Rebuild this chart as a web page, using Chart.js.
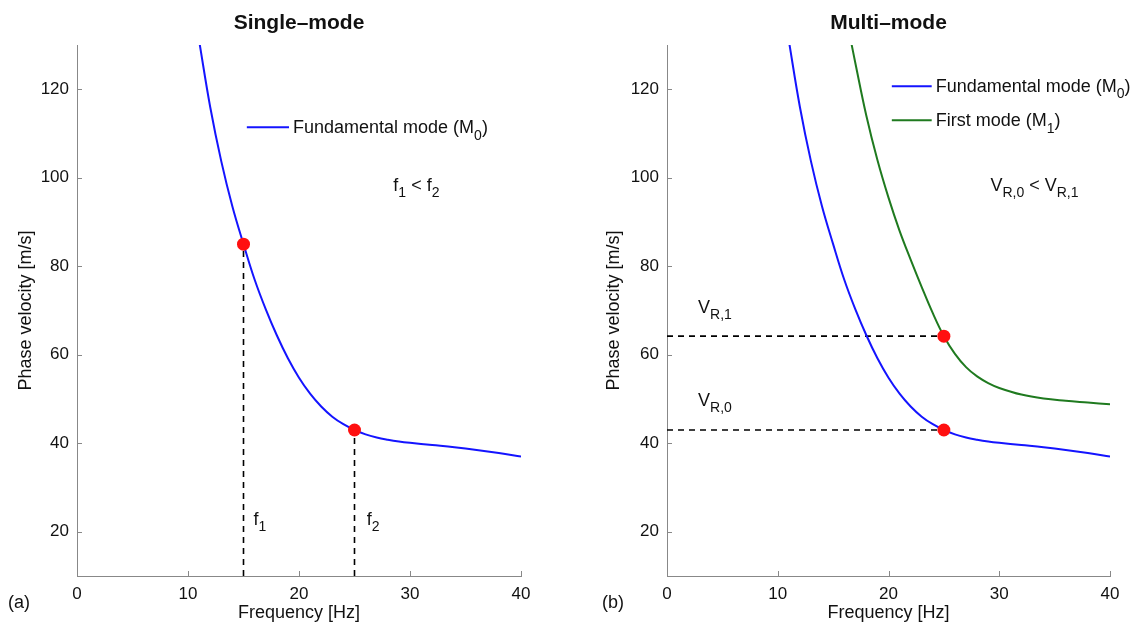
<!DOCTYPE html>
<html>
<head>
<meta charset="utf-8">
<script src="https://cdn.jsdelivr.net/npm/chart.js@4.4.1/dist/chart.umd.min.js"></script>
<style>
  body { margin: 0; background: #fff; }
  canvas { position: absolute; top: 0; }
</style>
</head>
<body>
<canvas id="leftChart" width="571" height="628" style="left:0"></canvas>
<canvas id="rightChart" width="572" height="628" style="left:571px"></canvas>
<script>
// tick labels
const xTicks = [0, 10, 20, 30, 40];
const yTicks = [20, 40, 60, 80, 100, 120];

// fundamental mode M0
const m0Freq = [11, 12, 13, 14, 15, 16, 17, 18, 19, 20, 21, 22, 23, 24, 25, 26, 27, 28, 29, 30, 32, 34, 36, 38, 40];
const m0Vel  = [131, 116, 103.7, 93.5, 85, 77, 70.3, 64.4, 59.2, 54.8, 51.2, 48.3, 46, 44.3, 43, 42, 41.3, 40.8, 40.4, 40.1, 39.6, 39.1, 38.5, 37.8, 37];

// first mode M1
const m1Freq = [16.6, 17, 18, 19, 20, 21, 22, 23, 24, 25, 26, 27, 28, 29, 30, 32, 34, 36, 38, 40];
const m1Vel  = [131, 126, 114, 104, 95.5, 88, 81.5, 75.3, 69.4, 64.2, 60.2, 57.2, 55.1, 53.6, 52.5, 51, 50.1, 49.6, 49.2, 48.8];

// picked points
const pickFreqA = [15, 25];
const pickVelA  = [85, 43];
const pickFreqB = [25, 25];
const pickVelB  = [43, 64.2];

const FONT = '"Liberation Sans", Arial, Helvetica, sans-serif';
const BLUE = '#1414ff';
const GREEN = '#1f7a1f';
const RED = '#ff1010';

function pts(xs, ys) { return xs.map((x, i) => ({ x: x, y: ys[i] })); }

function richText(ctx, parts, x, y, size) {
  let cx = x;
  for (const [t, sub] of parts) {
    ctx.font = (sub ? Math.round(size * 0.75) : size) + 'px ' + FONT;
    ctx.fillText(t, cx, sub ? y + size * 0.35 : y);
    cx += ctx.measureText(t).width;
  }
}

const decorPlugin = {
  id: 'decor',
  afterDraw(chart) {
    const d = chart.options.plugins.decor;
    const ctx = chart.ctx;
    const xs = chart.scales.x, ys = chart.scales.y;
    const a = chart.chartArea;
    ctx.save();
    // inward ticks
    ctx.strokeStyle = '#888';
    ctx.lineWidth = 1;
    ctx.beginPath();
    xTicks.forEach(v => {
      const px = Math.round(xs.getPixelForValue(v)) + 0.5;
      ctx.moveTo(px, a.bottom); ctx.lineTo(px, a.bottom - 5);
    });
    yTicks.forEach(v => {
      const py = Math.round(ys.getPixelForValue(v)) + 0.5;
      ctx.moveTo(a.left, py); ctx.lineTo(a.left + 5, py);
    });
    ctx.stroke();

    ctx.fillStyle = '#111';
    ctx.textBaseline = 'alphabetic';
    // title
    ctx.textAlign = 'center';
    ctx.font = 'bold 21px ' + FONT;
    ctx.fillText(d.title, (a.left + a.right) / 2, 29);
    // x label
    ctx.font = '18px ' + FONT;
    ctx.fillText('Frequency [Hz]', (a.left + a.right) / 2, 618);
    // y label
    ctx.save();
    ctx.translate(d.yLabelX, (a.top + a.bottom) / 2);
    ctx.rotate(-Math.PI / 2);
    ctx.fillText('Phase velocity [m/s]', 0, 6);
    ctx.restore();
    // panel tag
    ctx.textAlign = 'left';
    ctx.font = '18px ' + FONT;
    ctx.fillText(d.tag, d.tagX, 608);

    // legend
    d.legend.forEach(item => {
      const y0 = ys.getPixelForValue(item.v);
      ctx.strokeStyle = item.color;
      ctx.lineWidth = 2;
      ctx.beginPath();
      ctx.moveTo(xs.getPixelForValue(item.f0), y0);
      ctx.lineTo(xs.getPixelForValue(item.f1), y0);
      ctx.stroke();
      ctx.fillStyle = '#111';
      richText(ctx, item.parts, xs.getPixelForValue(item.f1) + 4, y0 + 6, 18);
    });

    // annotations
    d.notes.forEach(n => {
      richText(ctx, n.parts, xs.getPixelForValue(n.f), ys.getPixelForValue(n.v), 18);
    });
    ctx.restore();
  }
};

function makeChart(id, datasets, decor, yWidth, rightPad) {
  return new Chart(document.getElementById(id), {
    type: 'line',
    data: { datasets: datasets },
    options: {
      responsive: false,
      animation: false,
      devicePixelRatio: 1,
      layout: { padding: { left: 0, right: rightPad, top: 45, bottom: 0 } },
      plugins: { legend: { display: false }, tooltip: { enabled: false }, decor: decor },
      scales: {
        x: {
          type: 'linear', min: 0, max: 40,
          afterBuildTicks: s => { s.ticks = xTicks.map(v => ({ value: v })); },
          afterFit: s => { s.height = 52; },
          grid: { display: false, drawTicks: false },
          border: { display: true, color: '#888', width: 1 },
          ticks: { color: '#111', padding: 8, font: { family: FONT, size: 17 } }
        },
        y: {
          type: 'linear', min: 10, max: 130,
          afterBuildTicks: s => { s.ticks = yTicks.map(v => ({ value: v })); },
          afterFit: s => { s.width = yWidth; },
          grid: { display: false, drawTicks: false },
          border: { display: true, color: '#888', width: 1 },
          ticks: { color: '#111', padding: 8, font: { family: FONT, size: 17 } }
        }
      }
    },
    plugins: [decorPlugin]
  });
}

const curve = (xs, ys, color) => ({
  data: pts(xs, ys), borderColor: color, borderWidth: 2, pointRadius: 0,
  tension: 0.4, fill: false, order: 1
});
const dashed = (data) => ({
  data: data, borderColor: '#000', borderWidth: 1.6, borderDash: [6, 5],
  pointRadius: 0, fill: false, order: 2
});
const dots = (xs, ys) => ({
  data: pts(xs, ys), showLine: false, pointRadius: 6.5, pointBackgroundColor: RED,
  pointBorderWidth: 0, order: 0
});

makeChart('leftChart', [
  dots(pickFreqA, pickVelA),
  curve(m0Freq, m0Vel, BLUE),
  dashed([{ x: pickFreqA[0], y: 10 }, { x: pickFreqA[0], y: pickVelA[0] }]),
  dashed([{ x: pickFreqA[1], y: 10 }, { x: pickFreqA[1], y: pickVelA[1] }])
], {
  title: 'Single\u2013mode', tag: '(a)', tagX: 8, yLabelX: 25,
  legend: [
    { f0: 15.3, f1: 19.1, v: 111.4, color: BLUE, parts: [['Fundamental mode (M', 0], ['0', 1], [')', 0]] }
  ],
  notes: [
    { f: 28.5, v: 97, parts: [['f', 0], ['1', 1], [' < f', 0], ['2', 1]] },
    { f: 15.9, v: 21.5, parts: [['f', 0], ['1', 1]] },
    { f: 26.1, v: 21.5, parts: [['f', 0], ['2', 1]] }
  ]
}, 77, 50);

makeChart('rightChart', [
  dots(pickFreqB, pickVelB),
  curve(m0Freq, m0Vel, BLUE),
  curve(m1Freq, m1Vel, GREEN),
  dashed([{ x: 0, y: pickVelB[1] }, { x: pickFreqB[1], y: pickVelB[1] }]),
  dashed([{ x: 0, y: pickVelB[0] }, { x: pickFreqB[0], y: pickVelB[0] }])
], {
  title: 'Multi\u2013mode', tag: '(b)', tagX: 31, yLabelX: 42,
  legend: [
    { f0: 20.3, f1: 23.9, v: 120.7, color: BLUE, parts: [['Fundamental mode (M', 0], ['0', 1], [')', 0]] },
    { f0: 20.3, f1: 23.9, v: 113, color: GREEN, parts: [['First mode (M', 0], ['1', 1], [')', 0]] }
  ],
  notes: [
    { f: 29.2, v: 97, parts: [['V', 0], ['R,0', 1], [' < V', 0], ['R,1', 1]] },
    { f: 2.8, v: 69.4, parts: [['V', 0], ['R,1', 1]] },
    { f: 2.8, v: 48.4, parts: [['V', 0], ['R,0', 1]] }
  ]
}, 96, 33);
</script>
</body>
</html>
